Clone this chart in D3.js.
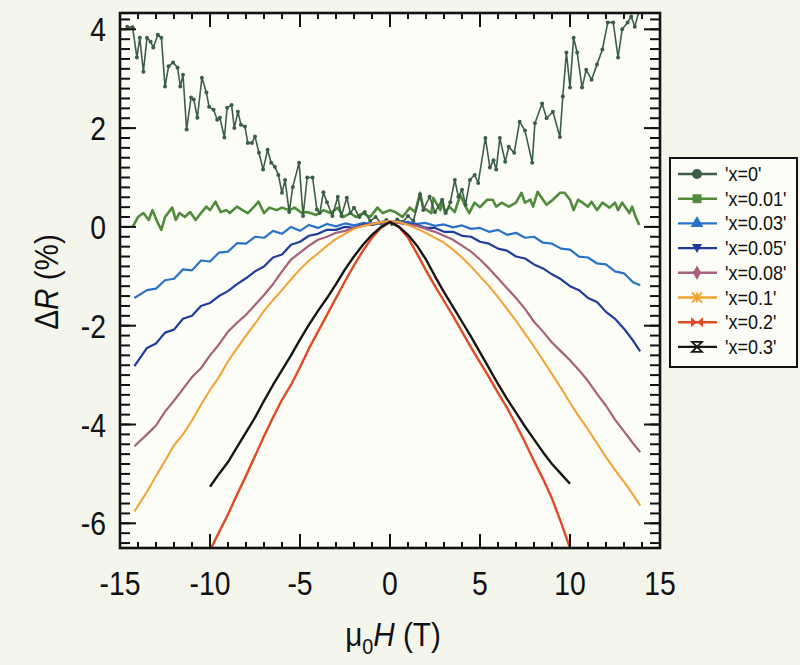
<!DOCTYPE html>
<html>
<head>
<meta charset="utf-8">
<script src="https://cdn.jsdelivr.net/npm/d3@7"></script>
<style>
  body { margin: 0; background: #f4f6ec; }
  text { font-family: "Liberation Sans", Arial, sans-serif; fill: #111; }
</style>
</head>
<body>
<script>
// field values (T)
var fieldWide = [-14.2,-13.5,-13,-12.5,-12,-11.5,-11,-10.5,-10,-9.5,-9,-8.5,-8,-7.5,-7,-6.5,-6,-5.5,-5,-4.5,-4,-3.5,-3,-2.5,-2,-1.5,-1,-0.5,0,
                 0.5,1,1.5,2,2.5,3,3.5,4,4.5,5,5.5,6,6.5,7,7.5,8,8.5,9,9.5,10,10.5,11,11.5,12,12.5,13,13.5,13.9];
var fieldNarrow = [-10,-9.5,-9,-8.5,-8,-7.5,-7,-6.5,-6,-5.5,-5,-4.5,-4,-3.5,-3,-2.5,-2,-1.5,-1,-0.5,0,
                   0.5,1,1.5,2,2.5,3,3.5,4,4.5,5,5.5,6,6.5,7,7.5,8,8.5,9,9.5,10];

// x=0 (noisy, own field points)
var field000 = [-14.6,-14.3,-14.06,-13.9,-13.7,-13.5,-13.3,-13.15,-12.9,-12.7,-12.5,-12.3,-12.05,-11.8,-11.65,-11.5,-11.3,-11.05,-10.9,-10.7,
  -10.45,-10.2,-10.05,-9.8,-9.6,-9.45,-9.2,-9.05,-8.8,-8.65,-8.45,-8.28,-8.06,-7.9,-7.67,-7.5,-7.28,-7.05,-6.8,-6.6,
  -6.4,-6.2,-6.0,-5.83,-5.6,-5.4,-5.05,-4.83,-4.6,-4.3,-4.06,-3.9,-3.7,-3.5,-3.2,-2.9,-2.7,-2.4,-2.2,-2.0,
  -1.7,-1.4,-1.1,-0.8,-0.5,-0.2,0.1,0.4,0.7,1.0,1.3,1.67,1.85,2.2,2.5,2.9,3.1,3.35,3.6,3.8,
  4.0,4.2,4.44,4.7,4.9,5.3,5.55,5.75,5.9,6.1,6.4,6.6,6.9,7.2,7.5,7.9,8.05,8.45,8.7,9.05,
  9.44,9.6,9.8,10.0,10.2,10.4,10.67,10.9,11.2,11.5,11.8,12.1,12.4,12.67,12.9,13.2,13.4,13.6,13.85];
var r000 = [4.05,4.04,3.43,3.83,3.14,3.83,3.75,3.63,3.89,3.83,2.84,3.25,3.33,3.22,2.84,3.08,1.97,2.62,2.58,2.21,
  3.02,2.72,2.43,2.37,2.17,2.21,1.81,2.41,2.47,2.0,2.33,2.07,2.03,1.7,1.7,1.83,1.5,1.16,1.56,1.3,
  1.22,1.05,0.69,0.95,0.3,0.81,1.3,0.22,1.0,1.0,0.35,0.28,0.7,0.5,0.22,0.61,0.22,0.59,0.28,0.39,
  0.2,0.3,0.12,0.2,0.08,0.14,0.06,0.15,0.1,0.22,0.12,0.65,0.34,0.61,0.3,0.55,0.28,0.5,0.95,0.61,
  0.75,0.45,0.95,1.05,0.89,1.8,1.2,1.35,1.16,1.8,1.32,1.62,1.5,2.13,1.95,1.3,2.1,2.5,2.2,2.33,
  1.82,2.64,3.53,2.82,3.83,3.53,2.82,3.18,2.98,3.29,3.59,4.14,4.14,3.43,4.0,4.14,4.26,4.05,4.4];

// x=0.01
var field001 = [-14.3,-14.0,-13.7,-13.4,-13.2,-12.9,-12.7,-12.5,-12.1,-11.9,-11.7,-11.4,-11.1,-10.8,-10.5,-10.2,-10.0,-9.7,-9.4,-9.1,
  -8.9,-8.5,-8.2,-7.9,-7.6,-7.3,-7.0,-6.7,-6.3,-6.0,-5.6,-5.3,-4.9,-4.6,-4.1,-3.7,-3.3,-2.9,-2.6,-2.2,
  -1.9,-1.5,-1.1,-0.7,-0.4,0,0.3,0.7,1.1,1.4,1.67,1.85,2.3,2.4,2.8,2.9,3.05,3.3,3.6,3.9,
  4.2,4.4,4.7,5.0,5.4,5.7,5.9,6.2,6.6,7.0,7.3,7.5,7.8,7.95,8.2,8.5,8.7,9.05,9.44,9.7,
  10.0,10.2,10.45,10.7,11.0,11.2,11.5,11.8,12.2,12.5,12.67,12.9,13.3,13.45,13.65,13.85];
var r001 = [0.0,0.2,0.28,0.14,0.34,0.08,-0.06,0.2,0.39,0.14,0.28,0.2,0.3,0.14,0.28,0.41,0.34,0.51,0.3,0.34,
  0.28,0.41,0.34,0.28,0.39,0.51,0.28,0.39,0.34,0.39,0.34,0.39,0.28,0.3,0.24,0.34,0.28,0.39,0.2,0.28,
  0.2,0.28,0.2,0.39,0.28,0.34,0.3,0.2,0.39,0.3,0.69,0.39,0.28,0.59,0.34,0.55,0.28,0.41,0.3,0.65,
  0.41,0.28,0.49,0.4,0.55,0.55,0.41,0.49,0.41,0.49,0.69,0.49,0.55,0.41,0.71,0.55,0.45,0.55,0.69,0.69,
  0.55,0.34,0.55,0.49,0.41,0.51,0.34,0.49,0.39,0.49,0.34,0.49,0.28,0.41,0.2,0.04];

var r003 = [-1.44,-1.28,-1.25,-1.08,-1.05,-0.86,-0.88,-0.68,-0.7,-0.52,-0.5,-0.33,-0.34,-0.2,-0.22,-0.08,-0.14,0.0,-0.08,0.04,-0.02,0.06,0.01,0.07,0.03,0.08,0.06,0.1,0.12,
  0.1,0.1,0.06,0.08,0.02,0.05,-0.01,0.03,-0.04,-0.02,-0.1,-0.06,-0.16,-0.12,-0.22,-0.2,-0.32,-0.34,-0.44,-0.46,-0.6,-0.62,-0.74,-0.76,-0.9,-0.94,-1.12,-1.18];
var r005 = [-2.82,-2.45,-2.36,-2.14,-2.08,-1.86,-1.8,-1.6,-1.54,-1.4,-1.3,-1.16,-1.04,-0.9,-0.8,-0.62,-0.56,-0.36,-0.3,-0.18,-0.14,-0.06,-0.06,0.0,-0.02,0.05,0.04,0.08,0.1,
  0.08,0.06,0.04,-0.02,-0.02,-0.1,-0.1,-0.18,-0.2,-0.3,-0.34,-0.44,-0.48,-0.6,-0.64,-0.76,-0.84,-0.96,-1.06,-1.2,-1.28,-1.44,-1.52,-1.72,-1.86,-2.06,-2.3,-2.52];
var r008 = [-4.44,-4.2,-4.02,-3.74,-3.52,-3.28,-3.04,-2.86,-2.6,-2.38,-2.12,-1.94,-1.78,-1.58,-1.38,-1.16,-0.9,-0.66,-0.52,-0.38,-0.26,-0.2,-0.12,-0.08,-0.02,0.02,0.06,0.08,0.1,
  0.08,0.05,0.02,-0.04,-0.1,-0.18,-0.26,-0.38,-0.5,-0.66,-0.84,-1.04,-1.24,-1.44,-1.66,-1.92,-2.12,-2.34,-2.52,-2.7,-2.9,-3.12,-3.38,-3.62,-3.9,-4.14,-4.38,-4.56];
var r010 = [-5.76,-5.36,-5.04,-4.74,-4.42,-4.2,-3.92,-3.6,-3.3,-3.04,-2.72,-2.46,-2.2,-1.96,-1.7,-1.48,-1.28,-1.06,-0.86,-0.68,-0.54,-0.38,-0.24,-0.14,-0.04,0.02,0.06,0.1,0.12,
  0.1,0.04,-0.04,-0.12,-0.22,-0.32,-0.46,-0.62,-0.8,-1.0,-1.2,-1.42,-1.66,-1.9,-2.16,-2.42,-2.7,-2.98,-3.26,-3.56,-3.84,-4.1,-4.38,-4.66,-4.92,-5.16,-5.42,-5.64];
var r020 = [-6.55,-6.18,-5.82,-5.42,-5.04,-4.64,-4.24,-3.86,-3.5,-3.2,-2.84,-2.46,-2.12,-1.78,-1.44,-1.1,-0.78,-0.48,-0.22,-0.02,0.1,
  0.0,-0.22,-0.54,-0.88,-1.2,-1.5,-1.8,-2.12,-2.44,-2.74,-3.04,-3.36,-3.66,-4.0,-4.36,-4.74,-5.1,-5.5,-5.98,-6.5];
var r030 = [-5.26,-5.0,-4.76,-4.46,-4.16,-3.86,-3.52,-3.2,-2.9,-2.6,-2.28,-1.98,-1.7,-1.44,-1.16,-0.86,-0.6,-0.36,-0.16,0.0,0.1,
  0.0,-0.16,-0.38,-0.66,-1.0,-1.32,-1.62,-1.92,-2.22,-2.54,-2.86,-3.18,-3.48,-3.76,-4.04,-4.3,-4.56,-4.8,-5.0,-5.2];

var legendLabels = ["'x=0'", "'x=0.01'", "'x=0.03'", "'x=0.05'", "'x=0.08'", "'x=0.1'", "'x=0.2'", "'x=0.3'"];
var colors = ["#3b5f45", "#4f8b3b", "#2a71c8", "#1f3d9c", "#a6627d", "#f2a232", "#df4b26", "#161616"];
var xTicks = [-15, -10, -5, 0, 5, 10, 15];
var yTicks = [-6, -4, -2, 0, 2, 4];

var series = [
  {h: field000, r: r000, w: 1.6},
  {h: field001, r: r001, w: 2.6},
  {h: fieldWide, r: r003, w: 2.2},
  {h: fieldWide, r: r005, w: 2.2},
  {h: fieldWide, r: r008, w: 2.2},
  {h: fieldWide, r: r010, w: 2.0},
  {h: fieldNarrow, r: r020, w: 2.4},
  {h: fieldNarrow, r: r030, w: 2.4}
];

var W = 800, H = 665;
var pLeft = 120, pRight = 660, pTop = 13, pBottom = 548;

var svg = d3.select("body").append("svg").attr("width", W).attr("height", H);

var x = d3.scaleLinear().domain([-15, 15]).range([pLeft, pRight]);
var y = d3.scaleLinear().domain([-6.5, 4.33]).range([pBottom, pTop]);

svg.append("rect").attr("x", pLeft).attr("y", pTop)
   .attr("width", pRight - pLeft).attr("height", pBottom - pTop)
   .attr("fill", "#fcfdf6");

svg.append("clipPath").attr("id", "plot")
   .append("rect").attr("x", pLeft).attr("y", pTop)
   .attr("width", pRight - pLeft).attr("height", pBottom - pTop);

var line = d3.line().x(function(d) { return x(d[0]); }).y(function(d) { return y(d[1]); });

var g = svg.append("g").attr("clip-path", "url(#plot)");
var order = [1, 0, 2, 3, 4, 5, 6, 7];
order.forEach(function(i) {
  var s = series[i];
  var pts = s.h.map(function(h, k) { return [h, s.r[k]]; });
  g.append("path").datum(pts)
   .attr("fill", "none").attr("stroke", colors[i])
   .attr("stroke-width", s.w).attr("stroke-linejoin", "round")
   .attr("d", line);
  if (i === 0) {
    g.selectAll(null).data(pts).enter().append("circle")
     .attr("cx", function(d) { return x(d[0]); })
     .attr("cy", function(d) { return y(d[1]); })
     .attr("r", 2).attr("fill", colors[0]);
  }
});

// inward ticks on all four sides
var xMinor = d3.range(-15, 16, 1);
var yMinor = d3.range(-6.4, 4.31, 0.2).map(function(v) { return Math.round(v * 10) / 10; });

function ticks(sel, vals, len, orient) {
  sel.selectAll(null).data(vals).enter().append("line")
    .attr("stroke", "#111").attr("stroke-width", 2)
    .each(function(v) {
      var el = d3.select(this);
      if (orient === "b") el.attr("x1", x(v)).attr("x2", x(v)).attr("y1", pBottom).attr("y2", pBottom - len);
      if (orient === "t") el.attr("x1", x(v)).attr("x2", x(v)).attr("y1", pTop).attr("y2", pTop + len);
      if (orient === "l") el.attr("y1", y(v)).attr("y2", y(v)).attr("x1", pLeft).attr("x2", pLeft + len);
      if (orient === "r") el.attr("y1", y(v)).attr("y2", y(v)).attr("x1", pRight).attr("x2", pRight - len);
    });
}
var tg = svg.append("g");
ticks(tg, xMinor, 6, "b");
ticks(tg, xMinor, 6, "t");
ticks(tg, xTicks, 14, "b");
ticks(tg, xTicks, 14, "t");
ticks(tg, yMinor, 10, "l");
ticks(tg, yMinor, 10, "r");
ticks(tg, yTicks, 16, "l");
ticks(tg, yTicks, 16, "r");

svg.append("rect").attr("x", pLeft).attr("y", pTop)
   .attr("width", pRight - pLeft).attr("height", pBottom - pTop)
   .attr("fill", "none").attr("stroke", "#111").attr("stroke-width", 2.6);

// tick labels
svg.append("g").selectAll("text").data(xTicks).enter().append("text")
   .attr("transform", function(d) { return "translate(" + x(d) + ",595) scale(0.86,1)"; })
   .attr("text-anchor", "middle").style("font-size", "33px")
   .text(function(d) { return d; });
svg.append("g").selectAll("text").data(yTicks).enter().append("text")
   .attr("transform", function(d) { return "translate(106," + (y(d) + 12) + ") scale(0.86,1)"; })
   .attr("text-anchor", "end").style("font-size", "33px")
   .text(function(d) { return d; });

// axis titles
var xt = svg.append("text").attr("transform", "translate(393,646) scale(0.9,1)")
   .attr("text-anchor", "middle").style("font-size", "33px");
xt.append("tspan").text("\u03bc");
xt.append("tspan").attr("dy", 8).style("font-size", "22px").text("0");
xt.append("tspan").attr("dy", -8).style("font-style", "italic").text("H");
xt.append("tspan").text(" (T)");

var yt = svg.append("text").attr("transform", "translate(58,282) rotate(-90) scale(0.9,1)")
   .attr("text-anchor", "middle").style("font-size", "33px");
yt.append("tspan").text("\u0394");
yt.append("tspan").style("font-style", "italic").text("R");
yt.append("tspan").text(" (%)");

// legend
var lg = svg.append("g");
lg.append("rect").attr("x", 670).attr("y", 158).attr("width", 127).attr("height", 209)
  .attr("fill", "#fcfdf6").attr("stroke", "#111").attr("stroke-width", 2);

var markers = [
  d3.symbol().type(d3.symbolCircle).size(80)(),
  d3.symbol().type(d3.symbolSquare).size(80)(),
  d3.symbol().type(d3.symbolTriangle).size(70)(),
  "M-5,-4L5,-4L0,5Z",
  d3.symbol().type(d3.symbolDiamond).size(60)(),
  "M-5,-5L5,5M-5,5L5,-5M0,-5L0,5",
  "M-6,-5L0,0L-6,5ZM6,-5L0,0L6,5Z",
  "M-5,-5L5,-5L-5,5L5,5Z"
];

legendLabels.forEach(function(lab, i) {
  var cy = 174 + i * 24.7;
  lg.append("line").attr("x1", 678).attr("x2", 717).attr("y1", cy).attr("y2", cy)
    .attr("stroke", colors[i]).attr("stroke-width", 2.4);
  var m = lg.append("path").attr("d", markers[i])
    .attr("transform", "translate(697," + cy + ")");
  if (i === 5 || i === 7) m.attr("fill", "none").attr("stroke", colors[i]).attr("stroke-width", 1.8);
  else m.attr("fill", colors[i]);
  lg.append("text").attr("transform", "translate(725," + (cy + 7) + ") scale(0.9,1)")
    .style("font-size", "20px").text(lab);
});
</script>
</body>
</html>
